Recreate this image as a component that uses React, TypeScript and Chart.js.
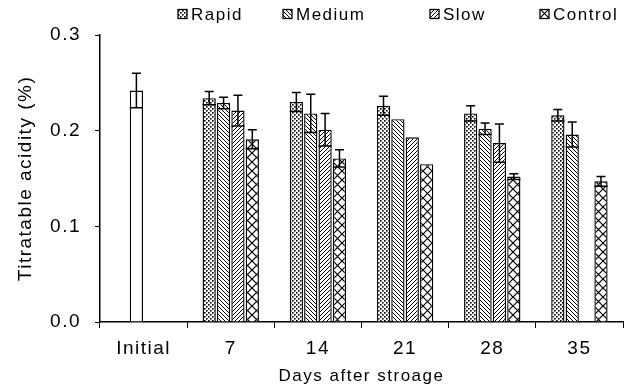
import React, { useEffect, useRef } from "react";
import { Chart, registerables } from "chart.js";

Chart.register(...registerables);

const categories = ["Initial", "7", "14", "21", "28", "35"];
const seriesNames = ["Rapid", "Medium", "Slow", "Control"];

const initialValues = [0.242, null, null, null, null, null];
const initialErrors = [0.018, 0, 0, 0, 0, 0];
const rapidValues = [null, 0.234, 0.23, 0.226, 0.218, 0.216];
const rapidErrors = [0, 0.007, 0.01, 0.01, 0.008, 0.006];
const mediumValues = [null, 0.229, 0.218, 0.212, 0.202, 0.196];
const mediumErrors = [0, 0.006, 0.02, 0, 0.006, 0.013];
const slowValues = [null, 0.221, 0.201, 0.193, 0.187, null];
const slowErrors = [0, 0.016, 0.017, 0, 0.02, 0];
const controlValues = [null, 0.191, 0.171, 0.165, 0.152, 0.147];
const controlErrors = [0, 0.01, 0.009, 0, 0.003, 0.005];
const yTickValues = [0, 0.1, 0.2, 0.3];

const FONT = "'Liberation Sans', Arial, sans-serif";
const LETTER_SPACING = "1.5px";

function makePattern(kind: string): CanvasPattern | string {
  const c = document.createElement("canvas");
  const ctx = c.getContext("2d");
  if (!ctx) return "#fff";
  let s = 4;
  if (kind === "cross") s = 9;
  c.width = s;
  c.height = s;
  ctx.fillStyle = "#fff";
  ctx.fillRect(0, 0, s, s);
  ctx.fillStyle = "#000";
  ctx.strokeStyle = "#000";
  ctx.lineWidth = 1;
  if (kind === "dots") {
    ctx.fillRect(0, 0, 1.6, 1.6);
    ctx.fillRect(2, 2, 1.6, 1.6);
  } else if (kind === "back") {
    ctx.beginPath();
    ctx.moveTo(-1, -1);
    ctx.lineTo(s + 1, s + 1);
    ctx.moveTo(s - 1, -1);
    ctx.lineTo(s + 1, 1);
    ctx.moveTo(-1, s - 1);
    ctx.lineTo(1, s + 1);
    ctx.stroke();
  } else if (kind === "fwd") {
    ctx.beginPath();
    ctx.moveTo(-1, s + 1);
    ctx.lineTo(s + 1, -1);
    ctx.moveTo(-1, 1);
    ctx.lineTo(1, -1);
    ctx.moveTo(s - 1, s + 1);
    ctx.lineTo(s + 1, s - 1);
    ctx.stroke();
  } else if (kind === "cross") {
    ctx.lineWidth = 1.2;
    ctx.beginPath();
    ctx.moveTo(-1, -1);
    ctx.lineTo(s + 1, s + 1);
    ctx.moveTo(-1, s + 1);
    ctx.lineTo(s + 1, -1);
    ctx.stroke();
  }
  const p = ctx.createPattern(c, "repeat");
  return p || "#fff";
}

const spacingPlugin = {
  id: "letterSpacing",
  beforeUpdate(chart: any) {
    (chart.ctx as any).letterSpacing = LETTER_SPACING;
  },
  beforeLayout(chart: any) {
    (chart.ctx as any).letterSpacing = LETTER_SPACING;
  },
  beforeDraw(chart: any) {
    (chart.ctx as any).letterSpacing = LETTER_SPACING;
  },
};

const errorBarPlugin = {
  id: "errorBars",
  afterDatasetsDraw(chart: any) {
    const ctx = chart.ctx;
    const yScale = chart.scales.y;
    chart.data.datasets.forEach((ds: any, di: number) => {
      const meta = chart.getDatasetMeta(di);
      const errs = ds.errors || [];
      meta.data.forEach((bar: any, i: number) => {
        const v = ds.data[i];
        const e = errs[i];
        if (v == null || !e) return;
        const x = bar.x;
        const w = bar.width;
        const top = yScale.getPixelForValue(v + e);
        const low = yScale.getPixelForValue(v - e);
        ctx.save();
        ctx.strokeStyle = "#000";
        ctx.lineWidth = 1.5;
        ctx.beginPath();
        ctx.moveTo(x, low);
        ctx.lineTo(x, top);
        ctx.moveTo(x - 4.5, top);
        ctx.lineTo(x + 4.5, top);
        ctx.moveTo(x - w / 2, low);
        ctx.lineTo(x + w / 2, low);
        ctx.stroke();
        ctx.restore();
      });
    });
  },
};

const legendPlugin = {
  id: "patternLegend",
  afterDraw(chart: any, _args: any, opts: any) {
    const ctx = chart.ctx;
    const items = opts.items || [];
    const xs = opts.xs || [];
    const y = opts.y;
    ctx.save();
    ctx.font = `17px ${FONT}`;
    ctx.textBaseline = "middle";
    ctx.textAlign = "left";
    items.forEach((it: any, i: number) => {
      const x = xs[i];
      ctx.fillStyle = it.fill;
      ctx.fillRect(x, y - 4.5, 9, 9);
      ctx.strokeStyle = "#000";
      ctx.lineWidth = 1.3;
      ctx.strokeRect(x, y - 4.5, 9, 9);
      ctx.fillStyle = "#000";
      ctx.fillText(it.text, x + 13, y + 1);
    });
    ctx.restore();
  },
};

export default function App() {
  const ref = useRef<HTMLCanvasElement | null>(null);

  useEffect(() => {
    document.body.style.margin = "0";
    document.body.style.overflow = "hidden";
    const canvas = ref.current;
    if (!canvas) return;

    const pDots = makePattern("dots");
    const pBack = makePattern("back");
    const pFwd = makePattern("fwd");
    const pCross = makePattern("cross");
    const fills = [pDots, pBack, pFwd, pCross];

    const base = {
      borderColor: "#000",
      borderWidth: 1.4,
      barPercentage: 0.92,
      categoryPercentage: 0.66,
    };

    const chart = new Chart(canvas, {
      type: "bar",
      data: {
        labels: categories,
        datasets: [
          { ...base, label: seriesNames[0], data: rapidValues, errors: rapidErrors, backgroundColor: pDots, stack: "r" } as any,
          { ...base, label: seriesNames[1], data: mediumValues, errors: mediumErrors, backgroundColor: pBack, stack: "m" } as any,
          { ...base, label: seriesNames[2], data: slowValues, errors: slowErrors, backgroundColor: pFwd, stack: "s" } as any,
          { ...base, label: seriesNames[3], data: controlValues, errors: controlErrors, backgroundColor: pCross, stack: "c" } as any,
          { ...base, label: "Initial", data: initialValues, errors: initialErrors, backgroundColor: "#fff", stack: "m" } as any,
        ],
      },
      options: {
        animation: false,
        responsive: false,
        devicePixelRatio: 1,
        layout: { padding: { top: 35, right: 5, left: 0, bottom: 0 } },
        plugins: {
          legend: { display: false },
          tooltip: { enabled: false },
          patternLegend: {
            items: seriesNames.map((t, i) => ({ text: t, fill: fills[i] })),
            xs: [178, 283, 430, 540],
            y: 14,
          },
        } as any,
        scales: {
          x: {
            offset: true,
            afterFit: (s: any) => {
              s.height = 70;
            },
            grid: {
              display: true,
              drawOnChartArea: false,
              offset: true,
              tickLength: 6,
              color: "#000",
              lineWidth: 1,
            },
            border: { display: true, color: "#000", width: 1.5 },
            ticks: {
              color: "#000",
              font: { family: FONT, size: 19 },
              padding: 9,
              maxRotation: 0,
            },
            title: {
              display: true,
              text: "Days after stroage",
              color: "#000",
              font: { family: FONT, size: 17 },
              padding: { top: 0, bottom: 5 },
            },
          },
          y: {
            stacked: false,
            min: 0,
            max: 0.3,
            afterBuildTicks: (s: any) => {
              s.ticks = yTickValues.map((v) => ({ value: v }));
            },
            afterFit: (s: any) => {
              s.width = 100;
            },
            grid: {
              display: true,
              drawOnChartArea: false,
              tickLength: 5,
              color: "#000",
              lineWidth: 1,
            },
            border: { display: true, color: "#000", width: 1.5 },
            ticks: {
              color: "#000",
              font: { family: FONT, size: 19 },
              padding: 14,
              callback: (v: any) => Number(v).toFixed(1),
            },
            title: {
              display: true,
              text: "Titratable acidity (%)",
              color: "#000",
              font: { family: FONT, size: 19 },
              padding: { top: 14, bottom: 0 },
            },
          },
        },
      },
      plugins: [spacingPlugin, errorBarPlugin, legendPlugin],
    });

    return () => chart.destroy();
  }, []);

  return (
    <div style={{ width: 628, height: 392 }}>
      <canvas ref={ref} width={628} height={392} style={{ display: "block", width: 628, height: 392 }} />
    </div>
  );
}
